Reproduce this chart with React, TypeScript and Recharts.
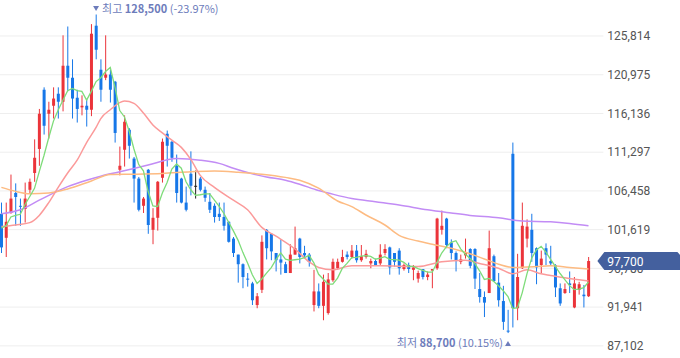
import { ComposedChart, Bar, Line, XAxis, YAxis, CartesianGrid, ReferenceDot } from "recharts";

const RED = "#EB343A";
const BLUE = "#1677E8";
const FLAT = "#222222";
const NOTE = "#6D7CBB";
const TAG = "#44609E";
const KR = "'Noto Sans CJK KR', 'Noto Sans', sans-serif";

// chart is shifted left so the first (clipped) candle sits at x≈1
const SHIFT = 1.37;
const CHART_W = 680 + SHIFT;
const AXIS_W = 77;
const PLOT_RIGHT = CHART_W - AXIS_W;

const opens = [
  103600, 100600, 103700, 106200, 104600, 104200, 106600, 108700, 111700, 119100,
  116100, 117100, 118600, 117600, 122100, 120600, 118100, 116900, 117100, 116600,
  127100, 121600, 120600, 121000, 120100, 109100, 111600, 114100, 110500, 108000,
  104600, 109100, 101600, 103100, 108100, 113600, 112600, 109600, 108000, 105000,
  108600, 107100, 108000, 106600, 105100, 104600, 103600, 103200, 102600, 100500,
  98500, 97300, 95500, 94900, 92200, 94100, 101600, 101100, 98700, 97900,
  97300, 96200, 98500, 100500, 98700, 98500, 92200, 93900, 92100, 91200,
  95300, 96800, 97600, 98500, 98200, 99000, 97800, 98200, 97400, 97700,
  97400, 98700, 99400, 98700, 99000, 96700, 97200, 96600, 95500, 96700,
  95700, 96500, 96800, 101600, 103000, 100000, 98700, 97600, 98400, 99200,
  99200, 94200, 93200, 93700, 98300, 95000, 92700, 89000, 111100, 91800,
  96800, 100500, 101600, 99300, 97200, 99300, 97700, 97200, 94300, 93700,
  94900, 91900, 94100, 93500, 93300,
];

const highs = [
  105000, 105000, 108500, 107400, 105500, 107500, 108000, 112900, 116700, 119400,
  117600, 119400, 119400, 125900, 127000, 122900, 119100, 118400, 117900, 127300,
  128500, 122900, 125900, 121600, 120200, 112000, 115900, 114300, 110700, 108200,
  105700, 109200, 104300, 107700, 113000, 114000, 112700, 111000, 108100, 107000,
  111400, 109000, 108200, 107000, 106200, 104900, 105000, 105000, 102700, 100700,
  98500, 97400, 96200, 95100, 93700, 100900, 101700, 101200, 98700, 100400,
  97600, 99800, 102000, 100600, 99600, 98700, 96600, 94900, 96000, 96200,
  98000, 98000, 99100, 98900, 99700, 99700, 99700, 99100, 98000, 98000,
  99800, 99800, 99500, 98700, 99300, 97400, 97500, 97200, 96500, 96700,
  96400, 96700, 103100, 104000, 103100, 100400, 98900, 98500, 100500, 99300,
  99300, 96200, 93900, 101500, 98500, 96200, 94600, 91600, 112500, 98600,
  105000, 102900, 103600, 99400, 99000, 99900, 99600, 97300, 94900, 94900,
  96400, 95700, 95100, 94700, 98200,
];

const lows = [
  98700, 98200, 103600, 102100, 102100, 102500, 106200, 107600, 109600, 113500,
  113000, 115500, 115500, 116400, 118900, 115500, 115000, 115900, 114500, 115800,
  122900, 117600, 120300, 117500, 112500, 108400, 109500, 110500, 105000, 103900,
  103700, 101100, 99800, 101500, 107500, 109500, 110100, 105000, 104900, 103900,
  105900, 105500, 106400, 105100, 103700, 102500, 102700, 101500, 100000, 98200,
  95000, 94300, 94500, 92200, 91800, 93700, 97900, 97800, 96400, 96000,
  96200, 96200, 98500, 97400, 98000, 97000, 91400, 91800, 90300, 91000,
  95100, 96600, 97500, 97900, 98000, 97500, 97600, 98000, 96800, 97100,
  97200, 98400, 96000, 97000, 96000, 96500, 96200, 95300, 95000, 95400,
  95300, 94300, 96600, 101000, 99300, 97900, 96400, 97300, 98000, 96800,
  94200, 92500, 90700, 93700, 95100, 92000, 89100, 88700, 89400, 90300,
  96700, 99400, 97600, 94800, 96200, 97200, 97100, 93200, 92100, 93600,
  93700, 91800, 93500, 91900, 93200,
];

const closes = [
  99400, 102600, 105500, 105700, 104500, 105500, 107600, 110600, 116100, 114600,
  116600, 118000, 117600, 122100, 120600, 118000, 116700, 117100, 116600, 126100,
  124100, 119100, 121000, 119100, 113700, 109600, 115100, 112100, 108000, 104100,
  105500, 102200, 103100, 107600, 112600, 112100, 110600, 106200, 105000, 104100,
  107100, 107100, 106600, 105600, 104100, 103200, 103200, 102100, 100100, 98700,
  97300, 95700, 95400, 92800, 93300, 100100, 99300, 98900, 97800, 97500,
  96200, 98500, 99300, 98200, 98400, 97600, 93900, 92100, 95100, 95400,
  97600, 97600, 98200, 98200, 99000, 97800, 98300, 98600, 97700, 97200,
  98500, 99200, 96900, 97600, 96800, 97200, 96700, 96900, 96200, 95700,
  96000, 96700, 103000, 102100, 99700, 98700, 97700, 97900, 98700, 97100,
  95500, 93200, 92500, 99300, 95200, 92800, 90100, 88900, 91800, 95700,
  102100, 102000, 98700, 96900, 98000, 98500, 97400, 94400, 92400, 94200,
  94700, 94900, 94800, 93300, 97700,
];

// 5-day average line (green)
const ma5 = [
  101800, 102100, 103200, 103400, 103540, 104760, 105760, 106780, 108860, 110880,
  113100, 115180, 116580, 117780, 118980, 119260, 119000, 118900, 117800, 118900,
  120120, 120600, 121380, 121880, 119400, 116500, 115700, 113920, 111700, 109780,
  108960, 106380, 104580, 104500, 106200, 107520, 109200, 109820, 109300, 107600,
  106600, 105900, 105980, 106100, 106100, 105320, 104540, 103640, 102540, 101460,
  100280, 98780, 97440, 95980, 94900, 95460, 96180, 96880, 97880, 98720,
  97940, 97780, 97860, 97940, 98120, 98400, 97480, 96040, 95420, 94820,
  94820, 95560, 96780, 97400, 98120, 98160, 98300, 98380, 98280, 97920,
  98060, 98240, 97900, 97880, 97800, 97540, 97040, 97040, 96760, 96540,
  96300, 96300, 97520, 98700, 99500, 100040, 100240, 99220, 98540, 98020,
  97380, 96480, 95400, 95520, 95140, 94600, 93980, 93260, 91760, 91860,
  93720, 96100, 98060, 99080, 99540, 98820, 97900, 97040, 96140, 95380,
  94620, 94120, 94200, 94380, 95080,
];

// longer averages, read at sampled candles: [index, value]
const ma20Points: [number, number][] = [
  [0, 102000], [3, 102200], [6, 102500], [8, 103400], [10, 105000], [12, 106900],
  [14, 108700], [16, 110300], [18, 112500], [20, 114400], [21, 115500], [23, 116600],
  [26, 117700], [28, 117400], [30, 116200], [32, 114700], [34, 113700], [36, 112800],
  [38, 111900], [40, 110400], [42, 108400], [45, 106900], [49, 105300], [52, 104100],
  [55, 101900], [58, 100800], [62, 99200], [65, 97600], [67, 96900], [70, 96600],
  [74, 97100], [80, 97100], [88, 97000], [93, 97600], [98, 97800], [101, 97400],
  [105, 96800], [108, 96100], [111, 96600], [114, 96100], [116, 95900], [119, 95600],
  [124, 95200],
];

const ma60Points: [number, number][] = [
  [0, 106900], [3, 106400], [6, 106100], [10, 106200], [14, 106700], [19, 107700],
  [23, 108500], [28, 108550], [34, 108650], [40, 108850], [45, 108950], [50, 108800],
  [55, 108550], [60, 108150], [63, 107800], [67, 106800], [71, 105200], [74, 104500],
  [77, 103450], [81, 102200], [84, 100900], [88, 100200], [91, 99800], [95, 99300],
  [98, 98800], [102, 97950], [105, 97300], [108, 96900], [113, 97000], [116, 97100],
  [120, 96900], [124, 96700],
];

const ma120Points: [number, number][] = [
  [0, 103600], [4, 104100], [8, 105300], [14, 107000], [18, 107800], [21, 108300],
  [25, 108850], [31, 109700], [37, 110500], [42, 110300], [46, 109900], [49, 109300],
  [53, 108600], [56, 108200], [60, 107800], [63, 107300], [67, 106500], [69, 106200],
  [74, 105500], [79, 105100], [84, 104700], [90, 104100], [95, 103700], [99, 103400],
  [105, 103100], [110, 102700], [116, 102600], [120, 102400], [124, 102100],
];

const Y_TICKS = [87102, 91941, 96780, 101619, 106458, 111297, 116136, 120975, 125814];
const Y_DOMAIN = [85583, 130312];

const HIGH_IDX = 20;
const HIGH_VAL = 128500;
const LOW_IDX = 107;
const LOW_VAL = 88700;
const LAST_VAL = 97700;

const rows = opens.map((o, i) => ({
  i,
  o,
  h: highs[i],
  l: lows[i],
  c: closes[i],
  range: [lows[i], highs[i]],
  ma5: ma5[i],
  ma20: null as number | null,
  ma60: null as number | null,
  ma120: null as number | null,
}));
ma20Points.forEach(([i, v]) => (rows[i].ma20 = v));
ma60Points.forEach(([i, v]) => (rows[i].ma60 = v));
ma120Points.forEach(([i, v]) => (rows[i].ma120 = v));

const fmt = (v: number) => v.toLocaleString("en-US");
const pct = (a: number, b: number) => ((a / b - 1) * 100).toFixed(2);

const Candle = (props: any) => {
  const { x, y, width, height, payload } = props;
  const { o, h, l, c } = payload;
  const top = Math.min(y, y + height);
  const span = Math.abs(height);
  const k = h === l ? 0 : span / (h - l);
  const py = (v: number) => top + (h - v) * k;
  const cx = x + width / 2;
  const color = c > o ? RED : c < o ? BLUE : FLAT;
  const bTop = py(Math.max(o, c));
  const bBot = py(Math.min(o, c));
  return (
    <g>
      <line x1={cx} x2={cx} y1={top} y2={top + span} stroke={color} strokeWidth={1} />
      <rect x={cx - 1.5} y={bTop} width={3} height={Math.max(1, bBot - bTop)} fill={color} />
    </g>
  );
};

const HighMark = (props: any) => {
  const { cx, cy } = props;
  const last = closes[closes.length - 1];
  return (
    <g>
      <polygon points={`${cx - 3},${cy - 8.5} ${cx + 3},${cy - 8.5} ${cx},${cy - 3.5}`} fill={NOTE} />
      <text x={cx + 6} y={cy - 1.5} fontSize={11} fill={NOTE} fontFamily={KR}>
        최고 <tspan fontWeight="bold">{fmt(HIGH_VAL)}</tspan> ({pct(last, HIGH_VAL)}%)
      </text>
    </g>
  );
};

const LowMark = (props: any) => {
  const { cx, cy } = props;
  const last = closes[closes.length - 1];
  return (
    <g>
      <polygon points={`${cx - 3},${cy + 13} ${cx + 3},${cy + 13} ${cx},${cy + 8}`} fill={NOTE} />
      <text x={cx - 5} y={cy + 13.7} fontSize={11} fill={NOTE} fontFamily={KR} textAnchor="end">
        최저 <tspan fontWeight="bold">{fmt(LOW_VAL)}</tspan> ({pct(last, LOW_VAL)}%)
      </text>
    </g>
  );
};

// y-axis tick: plain label, or the last-price tag (listed last so it is drawn on top)
const AxisTick = (props: any) => {
  const { x, y, payload } = props;
  const v = payload.value;
  if (v === LAST_VAL) {
    const x0 = PLOT_RIGHT;
    const x1 = CHART_W;
    return (
      <g>
        <polygon
          points={`${x0 - 6},${y} ${x0 + 1},${y - 9} ${x1 - 3},${y - 9} ${x1},${y - 6} ${x1},${y + 9} ${x0 + 1},${y + 9}`}
          fill={TAG}
        />
        <text x={x0 + 4} y={y + 4.5} fontSize={12} fill="#ffffff" fontFamily="Roboto, sans-serif">
          {fmt(v)}
        </text>
      </g>
    );
  }
  return (
    <text x={x} y={y} dy="0.355em" textAnchor="start" fontSize={12} fill="#555555" fontFamily="Roboto, sans-serif">
      {fmt(v)}
    </text>
  );
};

const lineProps = {
  dot: false,
  activeDot: false,
  legendType: "none" as const,
  isAnimationActive: false,
};

export default function App() {
  return (
    <div style={{ position: "absolute", left: 0, top: 0, width: 680, height: 358, overflow: "hidden", background: "#fff" }}>
      <div style={{ position: "absolute", left: -SHIFT, top: 0 }}>
        <ComposedChart width={CHART_W} height={358} data={rows} margin={{ top: 0, right: 0, bottom: 0, left: 0 }}>
          <CartesianGrid vertical={false} stroke="#eeeeee" horizontalValues={Y_TICKS} />
          <XAxis dataKey="i" type="category" hide padding={{ left: 0, right: 12.5 }} />
          <YAxis
            orientation="right"
            width={AXIS_W}
            domain={Y_DOMAIN}
            ticks={[...Y_TICKS, LAST_VAL]}
            interval={0}
            axisLine={false}
            tickLine={false}
            tickSize={2}
            tickMargin={2}
            allowDataOverflow
            tick={AxisTick}
          />
          <Bar dataKey="range" barSize={3} shape={Candle} isAnimationActive={false} />
          <Line dataKey="ma120" type="monotone" stroke="#C28CF5" strokeWidth={1.5} connectNulls {...lineProps} />
          <Line dataKey="ma60" type="monotone" stroke="#FDBB82" strokeWidth={1.5} connectNulls {...lineProps} />
          <Line dataKey="ma20" type="monotone" stroke="#FB9A9A" strokeWidth={1.5} connectNulls {...lineProps} />
          <Line dataKey="ma5" type="linear" stroke="#7EDC7A" strokeWidth={1.3} {...lineProps} />
          <ReferenceDot x={HIGH_IDX} y={HIGH_VAL} r={0} shape={HighMark} />
          <ReferenceDot x={LOW_IDX} y={LOW_VAL} r={0} shape={LowMark} />
        </ComposedChart>
      </div>
    </div>
  );
}
